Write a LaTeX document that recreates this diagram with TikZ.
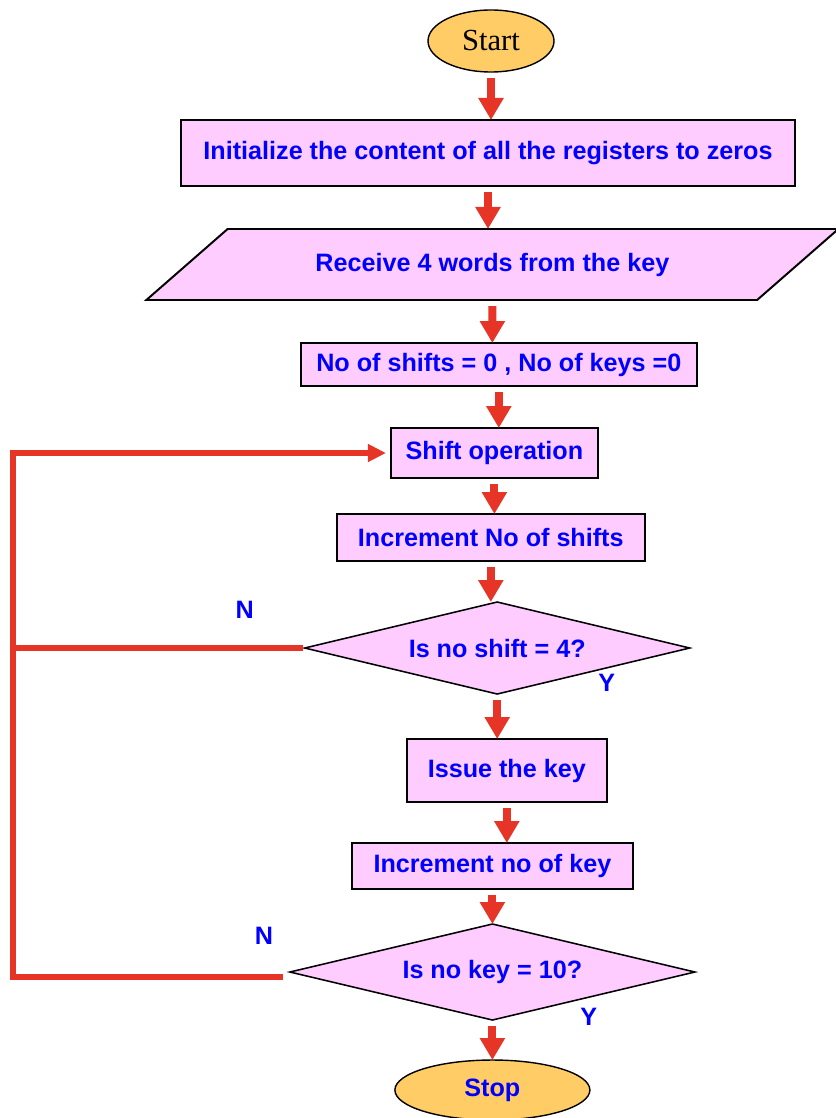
\documentclass[tikz,border=0pt]{standalone}
\usepackage{fontspec}
\setmainfont{Liberation Serif}
\setsansfont{Liberation Sans}
\usepackage{tikz}
\usetikzlibrary{shapes.geometric, arrows.meta, calc, positioning}
\definecolor{boxpink}{RGB}{255,204,255}
\definecolor{ovalorange}{RGB}{255,204,102}
\definecolor{flowred}{RGB}{230,52,38}
\definecolor{textblue}{RGB}{0,0,255}
\newcommand{\boxfont}{\sffamily\bfseries\fontsize{17.9}{21}\selectfont}
\tikzstyle{terminal} = [ellipse, draw=black, line width=1pt, fill=ovalorange, inner sep=0pt, outer sep=0pt]
\tikzstyle{process} = [rectangle, draw=black, line width=1.8pt, fill=boxpink, inner sep=0pt, outer sep=0pt, font=\boxfont, text=textblue]
\tikzstyle{io} = [trapezium, trapezium left angle=22, trapezium right angle=158, trapezium stretches body, draw=black, line width=1.4pt, fill=boxpink, outer sep=0pt, font=\boxfont, text=textblue]
\tikzstyle{decision} = [diamond, aspect=4.2, draw=black, line width=1.1pt, fill=boxpink, inner sep=0pt, outer sep=0pt, font=\boxfont, text=textblue]
\tikzstyle{arrow} = [draw=flowred, line width=5.7pt, -{Triangle[width=0.6cm,length=0.55cm]}, shorten <=0.15cm]
\tikzstyle{loopline} = [draw=flowred, line width=3.6pt]
\tikzstyle{answer} = [font=\boxfont, text=textblue, inner sep=0pt]

\begin{document}
\begin{tikzpicture}
	\useasboundingbox (0,0) rectangle (20.875,-27.95);
	\node (Start) [terminal, minimum width=3.15cm, minimum height=1.55cm, font=\fontsize{21.8}{24}\selectfont] at (12.275,-1.025) {Start};
	\node (Init) [process, minimum width=15.35cm, minimum height=1.65cm, below = 1.2cm of Start, xshift=-0.075cm] {Initialize the content of all the registers to zeros};
	\node (Receive) [io, minimum width=17.3cm, minimum height=1.775cm, below = 1.075cm of Init, xshift=0.11cm] {Receive 4 words from the key};
	\node (Counters) [process, minimum width=9.9cm, minimum height=1.075cm, below = 1.075cm of Receive, xshift=0.16cm] {No of shifts = 0 , No of keys =0};
	\node (Shift) [process, minimum width=5.175cm, minimum height=1.25cm, below = 1.05cm of Counters, xshift=-0.11cm] {Shift operation};
	\node (IncShift) [process, minimum width=7.7cm, minimum height=1.175cm, below = 0.9cm of Shift, xshift=-0.09cm] {Increment No of shifts};
	\node (TestShift) [decision, minimum width=9.625cm, minimum height=2.3cm, below = 1.025cm of IncShift, xshift=0.16cm] {Is no shift = 4?};
	\node (Issue) [process, minimum width=5cm, minimum height=1.575cm, below = 1.125cm of TestShift, xshift=0.24cm] {Issue the key};
	\node (IncKey) [process, minimum width=7.025cm, minimum height=1.15cm, below = 1.025cm of Issue, xshift=-0.36cm] {Increment no of key};
	\node (TestKey) [decision, minimum width=10.125cm, minimum height=2.4cm, below = 0.875cm of IncKey] {Is no key = 10?};
	\node (Stop) [terminal, minimum width=4.875cm, minimum height=1.5cm, below = 1cm of TestKey, font=\boxfont, text=textblue] {Stop};
	\node (NoShift) [answer] at ([xshift=-1.5cm, yshift=0.95cm]TestShift.west) {N};
	\node (YesShift) [answer] at ([xshift=2.74cm, yshift=-0.875cm]TestShift.center) {Y};
	\node (NoKey) [answer] at ([xshift=-0.65cm, yshift=0.9cm]TestKey.west) {N};
	\node (YesKey) [answer] at ([xshift=2.41cm, yshift=-1.125cm]TestKey.center) {Y};
	\coordinate (Rail) at (0.325,0);
	\draw [arrow] (Start) -- (Start |- Init.north);
	\draw [arrow] (Init) -- (Init |- Receive.north);
	\draw [arrow] (Receive) -- (Receive |- Counters.north);
	\draw [arrow] (Counters) -- (Counters |- Shift.north);
	\draw [arrow] (Shift) -- (Shift |- IncShift.north);
	\draw [arrow] (IncShift) -- (IncShift |- TestShift.north);
	\draw [arrow] (TestShift) -- (TestShift |- Issue.north);
	\draw [arrow] (Issue) -- (Issue |- IncKey.north);
	\draw [arrow] (IncKey) -- (IncKey |- TestKey.north);
	\draw [arrow] (TestKey) -- (TestKey |- Stop.north);
	\draw [loopline, -{Triangle[width=0.425cm,length=0.45cm]}] ([xshift=-0.175cm, yshift=-0.125cm]TestKey.west) -- ([yshift=-0.125cm]TestKey.west -| Rail) |- ([xshift=-0.125cm]Shift.west);
	\draw [loopline] ([xshift=-0.04cm]TestShift.west) -- (TestShift.west -| Rail);
\end{tikzpicture}
\end{document}
